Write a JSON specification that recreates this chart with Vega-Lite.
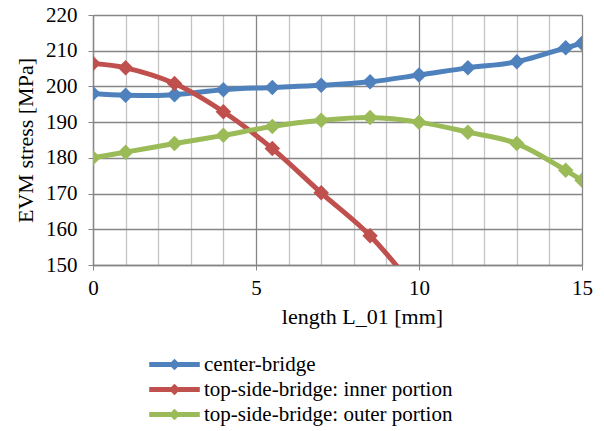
{
  "$schema": "https://vega.github.io/schema/vega-lite/v6.json",
  "autosize": "none",
  "width": 489,
  "height": 250,
  "padding": {"left": 93, "top": 15, "right": 22, "bottom": 166},
  "background": "white",
  "config": {
    "view": {"stroke": null}
  },
  "data": {
    "values": [
      {"series": "center-bridge", "x": 0, "y": 198.0},
      {"series": "center-bridge", "x": 1, "y": 197.5},
      {"series": "center-bridge", "x": 2.5, "y": 197.7},
      {"series": "center-bridge", "x": 4, "y": 199.1},
      {"series": "center-bridge", "x": 5.5, "y": 199.7},
      {"series": "center-bridge", "x": 7, "y": 200.3},
      {"series": "center-bridge", "x": 8.5, "y": 201.3},
      {"series": "center-bridge", "x": 10, "y": 203.2},
      {"series": "center-bridge", "x": 11.5, "y": 205.2},
      {"series": "center-bridge", "x": 13, "y": 206.9},
      {"series": "center-bridge", "x": 14.5, "y": 210.8},
      {"series": "center-bridge", "x": 15, "y": 212.1},
      {"series": "top-side-bridge: inner portion", "x": 0, "y": 206.4},
      {"series": "top-side-bridge: inner portion", "x": 1, "y": 205.2},
      {"series": "top-side-bridge: inner portion", "x": 2.5, "y": 200.8},
      {"series": "top-side-bridge: inner portion", "x": 4, "y": 192.9},
      {"series": "top-side-bridge: inner portion", "x": 5.5, "y": 182.6},
      {"series": "top-side-bridge: inner portion", "x": 7, "y": 170.2},
      {"series": "top-side-bridge: inner portion", "x": 8.5, "y": 158.2},
      {"series": "top-side-bridge: inner portion", "x": 10, "y": 142.0},
      {"series": "top-side-bridge: outer portion", "x": 0, "y": 180.0},
      {"series": "top-side-bridge: outer portion", "x": 1, "y": 181.6},
      {"series": "top-side-bridge: outer portion", "x": 2.5, "y": 184.0},
      {"series": "top-side-bridge: outer portion", "x": 4, "y": 186.3},
      {"series": "top-side-bridge: outer portion", "x": 5.5, "y": 188.8},
      {"series": "top-side-bridge: outer portion", "x": 7, "y": 190.5},
      {"series": "top-side-bridge: outer portion", "x": 8.5, "y": 191.3},
      {"series": "top-side-bridge: outer portion", "x": 10, "y": 190.0},
      {"series": "top-side-bridge: outer portion", "x": 11.5, "y": 187.2},
      {"series": "top-side-bridge: outer portion", "x": 13, "y": 184.0},
      {"series": "top-side-bridge: outer portion", "x": 14.5, "y": 176.5},
      {"series": "top-side-bridge: outer portion", "x": 15, "y": 173.7}
    ]
  },
  "encoding": {
    "x": {
      "field": "x",
      "type": "quantitative",
      "scale": {"domain": [0, 15], "nice": false, "zero": false},
      "axis": {
        "title": "length L_01 [mm]",
        "values": [0,1,2,3,4,5,6,7,8,9,10,11,12,13,14,15],
        "labelExpr": "datum.value % 5 === 0 ? datum.label : ''",
        "labelFont": "Liberation Serif",
        "titleFont": "Liberation Serif",
        "labelFontSize": 21,
        "titleFontSize": 22,
        "titleFontWeight": "normal",
        "labelColor": "black",
        "titleColor": "black",
        "domainColor": "#868686",
        "domainWidth": 1.3,
        "tickColor": "#868686",
        "gridWidth": 1.3,
        "gridColor": {"condition": {"test": "datum.value % 5 === 0", "value": "#868686"}, "value": "#c4c4c4"},
        "tickOpacity": {"condition": {"test": "datum.value % 5 === 0", "value": 1}, "value": 0},
        "tickSize": 5,
        "labelPadding": 7,
        "titlePadding": 8,
        "titleX": 269,
        "labelFlush": false
      }
    },
    "y": {
      "field": "y",
      "type": "quantitative",
      "scale": {"domain": [150, 220], "nice": false, "zero": false},
      "axis": {
        "title": "EVM stress [MPa]",
        "values": [150,160,170,180,190,200,210,220],
        "labelFont": "Liberation Serif",
        "titleFont": "Liberation Serif",
        "labelFontSize": 21,
        "titleFontSize": 22,
        "titleFontWeight": "normal",
        "labelColor": "black",
        "titleColor": "black",
        "domainColor": "#868686",
        "domainWidth": 1.3,
        "tickColor": "#868686",
        "gridColor": "#868686",
        "gridWidth": 1.3,
        "tickSize": 5,
        "labelPadding": 11,
        "titlePadding": 8
      }
    },
    "color": {
      "field": "series",
      "type": "nominal",
      "scale": {
        "domain": ["center-bridge", "top-side-bridge: inner portion", "top-side-bridge: outer portion"],
        "range": ["#4F81BD", "#C0504D", "#9BBB59"]
      },
      "legend": {
        "title": null,
        "orient": "none",
        "legendX": 71,
        "legendY": 339,
        "symbolType": "M-4,0H4M0,-0.35L0.35,0L0,0.35L-0.35,0Z",
        "symbolSize": 160,
        "symbolStrokeWidth": 5,
        "symbolOffset": 0,
        "labelOffset": 19,
        "rowPadding": 0,
        "labelFont": "Liberation Serif",
        "labelFontSize": 21,
        "labelColor": "black",
        "labelLimit": 450
      }
    }
  },
  "layer": [
    {
      "mark": {"type": "line", "interpolate": "catmull-rom", "strokeWidth": 5, "clip": true, "strokeCap": "round"}
    },
    {
      "mark": {"type": "point", "shape": "diamond", "filled": true, "size": 240, "opacity": 1, "clip": true}
    }
  ]
}
